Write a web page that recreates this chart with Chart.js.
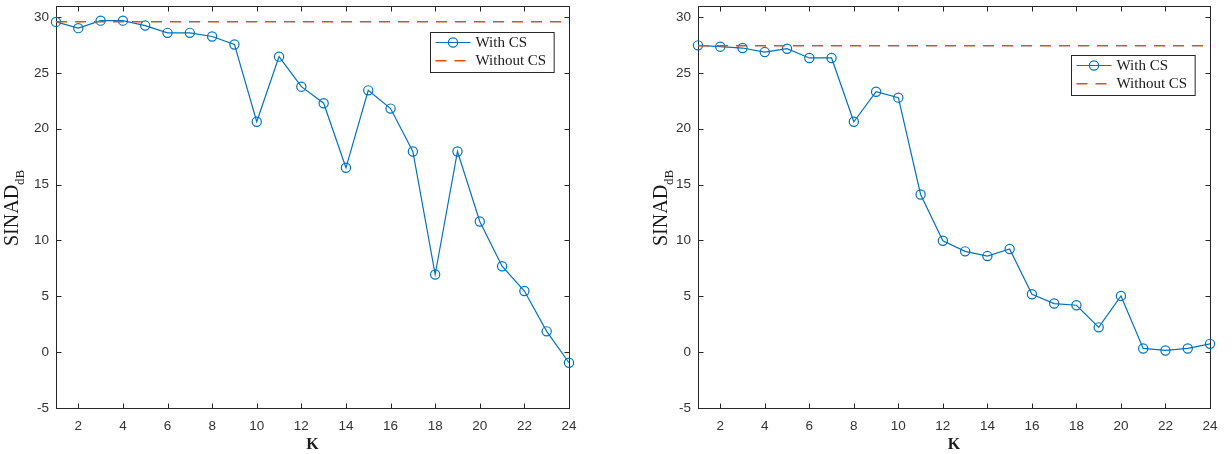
<!DOCTYPE html>
<html><head><meta charset="utf-8">
<script src="https://cdn.jsdelivr.net/npm/chart.js@4"></script>
<style>
body{margin:0;background:#fff;width:1232px;height:454px;overflow:hidden;display:flex}
canvas{display:block}
</style>
</head><body>
<canvas id="c1" width="616" height="454"></canvas><canvas id="c2" width="616" height="454"></canvas>
<script>
// ---- data ----
const kValues = [1,2,3,4,5,6,7,8,9,10,11,12,13,14,15,16,17,18,19,20,21,22,23,24];
const sinadWithCsLeft = [29.56,29.0,29.67,29.67,29.23,28.58,28.58,28.25,27.54,20.62,26.45,23.76,22.28,16.5,23.43,21.8,17.96,6.95,17.96,11.69,7.69,5.47,1.86,-0.95];
const sinadWithoutCsLeft = 29.57;
const sinadWithCsRight = [27.46,27.34,27.22,26.86,27.16,26.33,26.33,20.62,23.31,22.78,14.11,9.97,9.02,8.6,9.23,5.18,4.35,4.2,2.22,5.03,0.33,0.15,0.33,0.74];
const sinadWithoutCsRight = 27.43;
const xTickValues = [2,4,6,8,10,12,14,16,18,20,22,24];
const yTickValues = [-5,0,5,10,15,20,25,30];
const seriesLabels = ['With CS','Without CS'];
const axisLabelX = 'K';
const axisLabelY = 'SINAD';
const axisLabelYSub = 'dB';

// ---- styles ----
const BLUE = '#0072BD';
const ORANGE = '#D95319';
const AXIS = '#262626';

const framePlugin = {
  id: 'frame',
  beforeDatasetsDraw(chart) {
    const {ctx, chartArea: a, scales} = chart;
    ctx.save();
    ctx.strokeStyle = AXIS;
    ctx.lineWidth = 1;
    const L = Math.round(a.left) + 0.5, R = Math.round(a.right) + 0.5;
    const T = Math.round(a.top) + 0.5, B = Math.round(a.bottom) + 0.5;
    ctx.strokeRect(L, T, R - L, B - T);
    const tl = 5;
    ctx.beginPath();
    scales.x.ticks.forEach(t => {
      const px = Math.round(scales.x.getPixelForValue(t.value)) + 0.5;
      ctx.moveTo(px, B); ctx.lineTo(px, B - tl);
      ctx.moveTo(px, T); ctx.lineTo(px, T + tl);
    });
    scales.y.ticks.forEach(t => {
      const py = Math.round(scales.y.getPixelForValue(t.value)) + 0.5;
      ctx.moveTo(L, py); ctx.lineTo(L + tl, py);
      ctx.moveTo(R, py); ctx.lineTo(R - tl, py);
    });
    ctx.stroke();
    ctx.restore();
  }
};

const legendPlugin = {
  id: 'boxLegend',
  afterDraw(chart, args, o) {
    const {ctx, chartArea: a} = chart;
    ctx.save();
    ctx.font = '15px "Liberation Serif"';
    const ds = chart.data.datasets;
    const textW = Math.max(...ds.map(d => ctx.measureText(d.label).width));
    const w = 45 + textW + 8;
    const h = 40;
    const x1 = Math.round(a.right - o.right - w) + 0.5;
    const y1 = Math.round(a.top + o.top) + 0.5;
    ctx.fillStyle = '#fff';
    ctx.fillRect(x1, y1, w, h);
    ctx.strokeStyle = AXIS; ctx.lineWidth = 1;
    ctx.strokeRect(x1, y1, w, h);
    ds.forEach((d, i) => {
      const cy = y1 + 10 + i * 18.3;
      ctx.strokeStyle = d.borderColor;
      ctx.lineWidth = d.borderWidth;
      ctx.setLineDash(d.borderDash || []);
      ctx.beginPath();
      ctx.moveTo(x1 + 5, cy); ctx.lineTo(x1 + 40, cy);
      ctx.stroke();
      ctx.setLineDash([]);
      if (d.pointRadius > 0) {
        ctx.beginPath();
        ctx.arc(x1 + 22.5, cy, d.pointRadius, 0, Math.PI * 2);
        ctx.lineWidth = d.pointBorderWidth;
        ctx.stroke();
      }
      ctx.fillStyle = '#1a1a1a';
      ctx.textBaseline = 'middle';
      ctx.textAlign = 'left';
      ctx.fillText(d.label, x1 + 45, cy + 0.5);
    });
    ctx.restore();
  }
};

const yTitlePlugin = {
  id: 'yTitle',
  afterDraw(chart, args, o) {
    const {ctx, chartArea: a} = chart;
    ctx.save();
    ctx.fillStyle = '#1a1a1a';
    ctx.font = '20px "Liberation Serif"';
    const w1 = ctx.measureText(axisLabelY).width;
    ctx.font = '13px "Liberation Serif"';
    const w2 = ctx.measureText(axisLabelYSub).width;
    ctx.translate(o.x, (a.top + a.bottom) / 2 + 1);
    ctx.rotate(-Math.PI / 2);
    ctx.textBaseline = 'alphabetic';
    ctx.textAlign = 'left';
    const s = -(w1 + w2) / 2;
    ctx.font = '20px "Liberation Serif"';
    ctx.fillText(axisLabelY, s, 0);
    ctx.font = '13px "Liberation Serif"';
    ctx.fillText(axisLabelYSub, s + w1, 6);
    ctx.restore();
  }
};

function makeChart(id, withCs, withoutCs, L) {
  return new Chart(document.getElementById(id), {
    type: 'line',
    data: {
      datasets: [
        {
          label: seriesLabels[0],
          data: kValues.map((k, i) => ({x: k, y: withCs[i]})),
          borderColor: BLUE, backgroundColor: 'rgba(0,0,0,0)',
          borderWidth: 1.2, tension: 0,
          pointRadius: 4.6, pointBorderWidth: 1.2,
          pointBorderColor: BLUE, pointBackgroundColor: 'rgba(0,0,0,0)',
          pointStyle: 'circle', clip: false, order: 2
        },
        {
          label: seriesLabels[1],
          data: [{x: kValues[0], y: withoutCs}, {x: kValues[kValues.length - 1], y: withoutCs}],
          borderColor: ORANGE, backgroundColor: 'rgba(0,0,0,0)',
          borderWidth: 1.4, borderDash: [11, 8], pointRadius: 0, tension: 0,
          clip: false, order: 1
        }
      ]
    },
    options: {
      responsive: false, animation: false, devicePixelRatio: 1,
      layout: {padding: {left: 0, right: L.rightPad, top: 3, bottom: 0}},
      plugins: {
        legend: {display: false}, tooltip: {enabled: false},
        boxLegend: {right: 15, top: L.legendTop},
        yTitle: {x: L.yTitleX}
      },
      scales: {
        x: {
          type: 'linear', min: 1, max: 24,
          grid: {display: false, drawTicks: false},
          border: {display: false},
          afterBuildTicks: s => { s.ticks = xTickValues.map(v => ({value: v})); },
          afterFit: s => { s.height = 46; s.paddingLeft = 0; s.paddingRight = 0; },
          ticks: {font: {family: 'Liberation Sans', size: 13.5}, color: '#333', padding: 10, maxRotation: 0, autoSkip: false},
          title: {display: true, text: axisLabelX, color: '#1a1a1a',
                  font: {family: 'Liberation Serif', size: 16, weight: 'bold'}, padding: {top: 0, bottom: 0}}
        },
        y: {
          type: 'linear', min: -5, max: 31,
          grid: {display: false, drawTicks: false},
          border: {display: false},
          afterBuildTicks: s => { s.ticks = yTickValues.map(v => ({value: v})); },
          afterFit: s => { s.width = L.yAxisWidth; s.paddingTop = 0; s.paddingBottom = 0; },
          ticks: {font: {family: 'Liberation Sans', size: 13.5}, color: '#333', padding: 7, autoSkip: false}
        }
      }
    },
    plugins: [framePlugin, legendPlugin, yTitlePlugin]
  });
}

makeChart('c1', sinadWithCsLeft, sinadWithoutCsLeft, {yAxisWidth: 56, rightPad: 47, yTitleX: 18, legendTop: 26});
makeChart('c2', sinadWithCsRight, sinadWithoutCsRight, {yAxisWidth: 82, rightPad: 22, yTitleX: 51, legendTop: 49});
</script>
</body></html>
